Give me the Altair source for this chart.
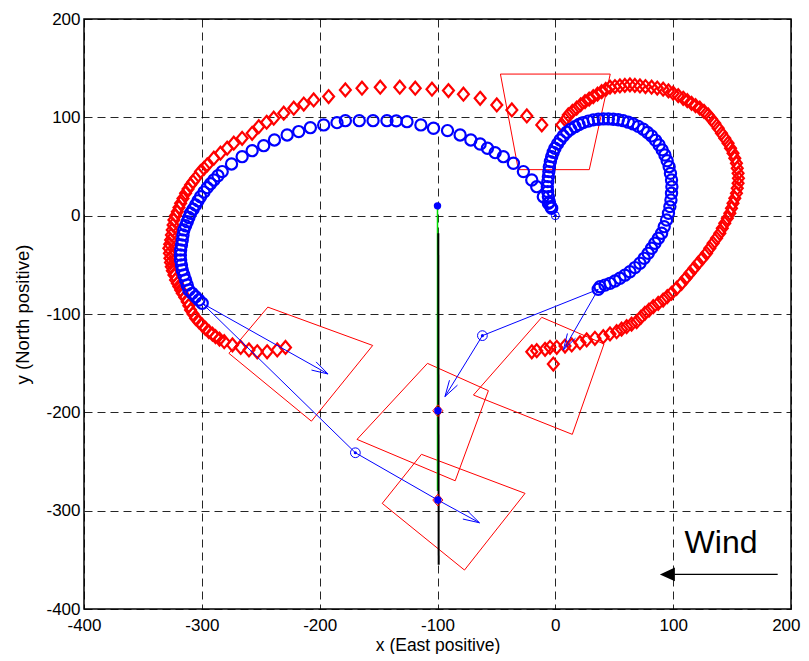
import math
import altair as alt
import pandas as pd

X_DOMAIN = [-400, 200]
Y_DOMAIN = [-400, 200]
FONT = "Liberation Sans"

# ---------------- data ----------------
blue_x = [-299.7, -302.5, -305.3, -308.2, -311, -312.4, -313.8, -315.2, -316.6, -317.3, -318, -318.2, -318,
          -317.3, -316.6, -316, -315.3, -313.8, -312.4, -311, -309.6, -307.4, -305.3, -303.2, -301.1, -298.2,
          -295.4, -292.6, -289.8, -286.3, -282.7, -274.8, -265.8, -257.3, -247.5, -238.4, -227.6, -217.8,
          -207.9, -196.6, -185.3, -178.2, -166.4, -154.7, -142.9, -135, -125.9, -114.1, -103.4, -91.5, -80.8,
          -71.7, -63.8, -57.6, -51.1, -44.1, -35.6, -27.1, -20, -15.8, -10.2, -5.9, -3.1,
          -3.9, -5, -5.9, -6.5, -6.8, -6.4, -5.9, -5.5, -5.1, -4.2, -3.1, -1.8, -0.3, 1.8, 4, 6.7, 9.7, 13,
          16.7, 20.1, 23.7, 28, 32.2, 36.5, 40.7, 45, 49.2, 53.4, 57.6, 61.9, 66.1, 70.4, 74.6, 78.2, 81.7,
          85, 88.1, 90.7, 93, 94.9, 96.6, 97.7, 98.6, 98.9, 98.6, 98.1, 97.2, 96, 94.4, 92.4, 90.2, 87.5,
          84.5, 81.7, 78.8, 75.4, 71.8, 67.6, 63.3, 59, 54.8, 50.6, 46.4, 42.2, 37.9, 36.4]
blue_y = [-89.1, -85.8, -82.4, -79, -75.6, -70.5, -65.4, -60.3, -55.2, -50.2, -45.1, -40, -34.9,
          -29.8, -24.7, -19.6, -14.5, -10.3, -6.1, -1.8, 2.4, 6.6, 10.9, 15.1, 19.3, 24,
          28.5, 32.4, 36.3, 40.6, 44.8, 52.6, 60, 66.1, 71.2, 77, 82.1, 85.5,
          89.5, 92.3, 94.6, 96.6, 96.6, 96.6, 96.6, 96.4, 95.6, 92.3, 88.9, 86.5, 82.1,
          77, 72.9, 68.6, 64.1, 60, 53.3, 44.8, 36.3, 29.5, 19.3, 12.6, 7.5,
          9.2, 14, 19.3, 24.5, 29.5, 34.6, 39.7, 44.8, 49.8, 55, 60, 64.4, 68.6, 73, 77, 81, 84.8, 87.8,
          90.5, 92.7, 94.6, 96.2, 97.4, 98, 98.4, 98.4, 98.1, 97.5, 96.6, 95.1, 93.3, 90.8, 87.9, 84.6, 81.1,
          76.6, 71.9, 66.9, 61.7, 55.8, 49.8, 43, 36.3, 29.5, 22.8, 16, 9.2, 2.4, -4.4, -11.2, -17.9, -23,
          -28.1, -33.2, -38.3, -43.4, -48.4, -52.8, -57, -60.5, -63.7, -66.4, -68.8, -70.6, -72.2, -74.9]

red_x = [-229, -236, -244.6, -253, -260, -267, -274, -281, -285, -288.4, -291, -294, -297, -299.7, -302.5,
         -305.3, -307.5, -309.6, -311, -312.4, -314.5, -316.6, -318, -319.5, -320.8, -322.3, -323.7, -325,
         -325.9, -326.6, -327.1, -327.5, -328, -327.3, -326.5, -325.8, -325.1, -324.4, -323.7, -322.3, -320.8,
         -319.4, -318, -316, -313.8, -311.7, -309.6, -307.5, -305.3, -301.1, -298.2, -295.4, -289.8, -284.2,
         -278.5, -272.9, -265.8, -257.3, -251.7, -245, -239, -230.5, -222, -213.5, -205.1, -192.4, -178.2,
         -164.1, -148.6, -132, -118.9, -104.7, -90.7, -78, -63.8, -49.7, -36.9, -24.2, -11.5,
         5.4, 8.5, 11, 14.5, 18.1, 21.5, 25.2, 28.7, 32.2, 35.8, 39.3, 42.8, 46.4, 50.6, 54.8, 59, 63.3, 67.5,
         71.8, 76.5, 81.7, 86.5, 91.5, 96, 100, 104.3, 108.5, 112, 115.6, 119, 122.6, 126.2, 129.7, 132.5,
         135.3, 138.2, 141, 143.8, 146.6, 148.7, 150.8, 152.3, 153.7, 154.4, 155.1, 155.4, 155.1, 154.4,
         153.7, 152.3, 150.8, 149.5, 148.1, 146, 143.8, 141.7, 139.6, 136.8, 133.9, 131.1, 128.3, 124.8,
         121.2, 117.7, 114.2, 110.7, 107.1, 102.9, 98.6, 95, 91.5, 87.3, 83.1, 79.5, 76, 72.5, 69, 64.7,
         60.5, 56.2, 52, 46.4, 40.7, 33.6, 26.6, 20.9, 13.9, 8.2, 1.2, -4.5, -8.7, -15.8, -20]
red_y = [-134, -136.6, -138.4, -138.4, -136.6, -134, -131.5, -128.2, -125.5, -123, -120.5, -118, -114.5,
         -111.2, -107.8, -104.4, -100, -95.9, -91.5, -87.5, -83, -78.9, -75.6, -72, -68.8, -65.4, -60.3, -56,
         -51.9, -47.5, -43.3, -38.3, -33.2, -29, -24.7, -19.6, -14.5, -9.5, -4.4, 0, 4.1,
         8.3, 12.6, 17.5, 22.8, 27, 31.2, 34.6, 38, 44.8, 48.2, 51.6, 58.4, 63.5,
         68.6, 73.7, 78.7, 83.8, 90.5, 95, 99.1, 104.2, 109.3, 113.5, 117.7, 121.1, 127.9,
         129.6, 130.6, 130.6, 129.6, 128.6, 127.2, 123.5, 119.4, 112.6, 107.5, 101.4, 92.3,
         92.3, 97.5, 102.4, 106, 109.3, 112.8, 116, 118.6, 121.1, 123.6, 126.1, 128.4, 130.6, 131.3, 131.9,
         132.5, 133, 132.5, 131.9, 131.3, 130.6, 129.8, 128.6, 126.8, 124.5, 122, 119.4, 117, 114.3, 111.8,
         109.3, 106, 102.4, 98.2, 94, 89, 83.8, 78.8, 73.7, 68.6, 63.5, 58.4, 53.3, 48.2, 43.1, 38, 33,
         27.9, 22.8, 17.7, 12.6, 7.5, 2.4, -2.6, -7.7, -12.8, -17.9, -23, -28.1, -33.2, -38.3, -43.4,
         -48.4, -53.5, -58.6, -63.7, -68.8, -74, -78.9, -82.4, -85.8, -89.2, -92.6, -96, -99.3, -103.5,
         -107.8, -110.4, -112.9, -115.5, -118, -120.3, -123.1, -124.7, -126.4, -129.2, -131.5, -132.6,
         -133.9, -133.9, -135.9, -137.3, -138.4]

red_extra_x = [-1.7]
red_extra_y = [-150.9]

# red outlines (footprints)
poly_names = ["trap", "A", "B", "C", "D"]
poly_xs = [[-46.6, 46.6, 28.8, -31.4],
           [-244, -155, -207, -277],
           [-108.5, -56.8, -85, -168.3],
           [-113.6, -25.7, -77.1, -146.9],
           [-11.5, 41.3, 14.4, -69.5]]
poly_ys = [[144, 144, 46.8, 46.8],
           [-93, -132, -209, -140],
           [-150.2, -178, -269.6, -227.5],
           [-242.7, -282.4, -360.4, -292.6],
           [-103.4, -130.5, -222.4, -182.4]]

# key points
P1 = (-299.7, -89.1)
P2 = (-169.7, -241.1)
P3 = (-99.7, -289.2)
P4 = (36.4, -74.9)
P5 = (-61.9, -122.0)
P6 = (-99.7, -198.4)
START = (0.0, 0.0)
DROP = (-100.0, 10.0)
tip1 = (-192.9, -161.0)
tip2 = (-64.4, -312.3)
tip3 = (-93.7, -184.0)
tip4 = (6.8, -136.6)

black_x = [-99.3, -99.0]
black_y = [-18.0, -355.0]
green_x = [-100.0, -100.0]
green_y = [10.0, -280.0]

wind_line_x = [188.7, 101.0]
wind_line_y = [-364.8, -364.8]
wind_head = (95.1, -364.8)
wind_text = (109.7, -343.4)

tick_values = list(range(-400, 201, 100))

# ---------------- helpers ----------------
KX = 707 / 600.0
KY = 590 / 600.0


def barbs(tip, frm, length=17.0, ang=16.0):
    dx = (tip[0] - frm[0]) * KX
    dy = (tip[1] - frm[1]) * KY
    n = math.hypot(dx, dy)
    bx, by = -dx / n, -dy / n
    out = []
    for s in (1, -1):
        a = math.radians(ang * s)
        rx = bx * math.cos(a) - by * math.sin(a)
        ry = bx * math.sin(a) + by * math.cos(a)
        out.append((tip[0] + length * rx / KX, tip[1] + length * ry / KY))
    return out


sx = alt.Scale(domain=X_DOMAIN, nice=False, zero=False)
sy = alt.Scale(domain=Y_DOMAIN, nice=False, zero=False)

common_axis = dict(values=tick_values, grid=True, gridDash=[8, 5], gridColor="#000000",
                   gridWidth=1, gridOpacity=0.85, ticks=False, domain=False, labelFontSize=17,
                   labelFont=FONT, labelColor="black", labelExpr="'' + datum.value", labelFlush=False,
                   titleFont=FONT, titleFontWeight="normal", titleColor="black")
xaxis = alt.Axis(labelPadding=8, title="x (East positive)", titleFontSize=17.5, titleY=41,
                 titleBaseline="alphabetic",
                 labelAlign={"condition": {"test": "datum.value == 200", "value": "right"}, "value": "center"},
                 labelOffset={"condition": {"test": "datum.value == 200", "value": 9}, "value": 0},
                 **common_axis)
yaxis = alt.Axis(labelPadding=4, title="y (North positive)", titleFontSize=18.5, titleAngle=270,
                 titleX=-56, titleY=295, titleAlign="center", titleBaseline="alphabetic", **common_axis)


def X():
    return alt.X("x:Q", scale=sx, axis=xaxis)


def Y():
    return alt.Y("y:Q", scale=sy, axis=yaxis)


def pts(pairs):
    return pd.DataFrame({"x": [p[0] for p in pairs], "y": [p[1] for p in pairs]})


# ---------------- layers ----------------
rows = []
for name, xs, ys in zip(poly_names, poly_xs, poly_ys):
    xs2 = xs + xs[:1]
    ys2 = ys + ys[:1]
    for i, (a, b) in enumerate(zip(xs2, ys2)):
        rows.append({"g": name, "o": i, "x": a, "y": b})
poly_df = pd.DataFrame(rows)
polys = alt.Chart(poly_df).mark_line(color="#ff0000", strokeWidth=1, clip=True).encode(
    x=X(), y=Y(), detail="g:N", order="o:Q")

red_df = pd.DataFrame({"x": red_x + red_extra_x, "y": red_y + red_extra_y})
DIAMOND = "M0,-1L0.85,0L0,1L-0.85,0Z"
red_pts = alt.Chart(red_df).mark_point(shape=DIAMOND, filled=False, size=165, strokeWidth=2.2,
                                       color="#ff0000", opacity=1).encode(x=X(), y=Y())

blue_df = pd.DataFrame({"x": blue_x, "y": blue_y})
blue_pts = alt.Chart(blue_df).mark_point(shape="circle", filled=False, size=125, strokeWidth=2.2,
                                         color="#0000ff", opacity=1).encode(x=X(), y=Y())

paths = [[P1, tip1], [P1, P2, P3, tip2], [P4, P5, tip3], [P4, tip4]]
heads = [(tip1, P1), (tip2, P3), (tip3, P5), (tip4, P4)]
rows = []
for k, path in enumerate(paths):
    for i, p in enumerate(path):
        rows.append({"g": "p%d" % k, "o": i, "x": p[0], "y": p[1]})
for k, (tip, frm) in enumerate(heads):
    b1, b2 = barbs(tip, frm)
    for i, p in enumerate([b1, tip, b2]):
        rows.append({"g": "h%d" % k, "o": i, "x": p[0], "y": p[1]})
vec_df = pd.DataFrame(rows)
vecs = alt.Chart(vec_df).mark_line(color="#0000ff", strokeWidth=1, clip=True).encode(
    x=X(), y=Y(), detail="g:N", order="o:Q")

green = alt.Chart(pd.DataFrame({"x": green_x, "y": green_y, "o": [0, 1]})).mark_line(
    color="#00dd00", strokeWidth=1.5).encode(x=X(), y=Y(), order="o:Q")
black = alt.Chart(pd.DataFrame({"x": black_x, "y": black_y, "o": [0, 1]})).mark_line(
    color="#000000", strokeWidth=2).encode(x=X(), y=Y(), order="o:Q")

ring_small = alt.Chart(pts([START])).mark_point(shape="circle", filled=False, size=64, strokeWidth=1,
                                                 color="#0000ff", opacity=1).encode(x=X(), y=Y())
rings = alt.Chart(pts([P2, P5])).mark_point(shape="circle", filled=False, size=95, strokeWidth=1,
                                            color="#0000ff", opacity=1).encode(x=X(), y=Y())
dots_small = alt.Chart(pts([START, P2, P5])).mark_point(shape="circle", filled=True, size=10,
                                                        color="#0000ff", opacity=1).encode(x=X(), y=Y())
red_thin = alt.Chart(pts([P3, P6])).mark_point(shape=DIAMOND, filled=False, size=140, strokeWidth=1,
                                               color="#ff0000", opacity=1).encode(x=X(), y=Y())
dots_big = alt.Chart(pts([P3, P6, DROP])).mark_point(shape="circle", filled=True, size=55,
                                                     color="#0000ff", opacity=1).encode(x=X(), y=Y())

wind_l = alt.Chart(pd.DataFrame({"x": wind_line_x, "y": wind_line_y, "o": [0, 1]})).mark_line(
    color="black", strokeWidth=1.3).encode(x=X(), y=Y(), order="o:Q")
wind_h = alt.Chart(pts([wind_head])).mark_point(shape="M-1,0L1,-0.93L1,0.93Z", filled=True, size=225,
                                                color="black", opacity=1).encode(x=X(), y=Y())
wind_t = alt.Chart(pd.DataFrame({"x": [wind_text[0]], "y": [wind_text[1]], "t": ["Wind"]})).mark_text(
    align="left", baseline="alphabetic", fontSize=32, font=FONT, color="black").encode(
    x=X(), y=Y(), text="t:N")

chart = alt.layer(polys, red_pts, blue_pts, vecs, green, black, ring_small, rings, dots_small,
                  red_thin, dots_big, wind_l, wind_h, wind_t).properties(
    width=707, height=590,
    autosize=alt.AutoSizeParams(type="none"),
    padding={"left": 76, "top": 11, "right": 10, "bottom": 45},
    background="white",
).configure_view(stroke="black", strokeWidth=1.5)

chart.save("out.html", embed_options={"renderer": "svg", "actions": False})
